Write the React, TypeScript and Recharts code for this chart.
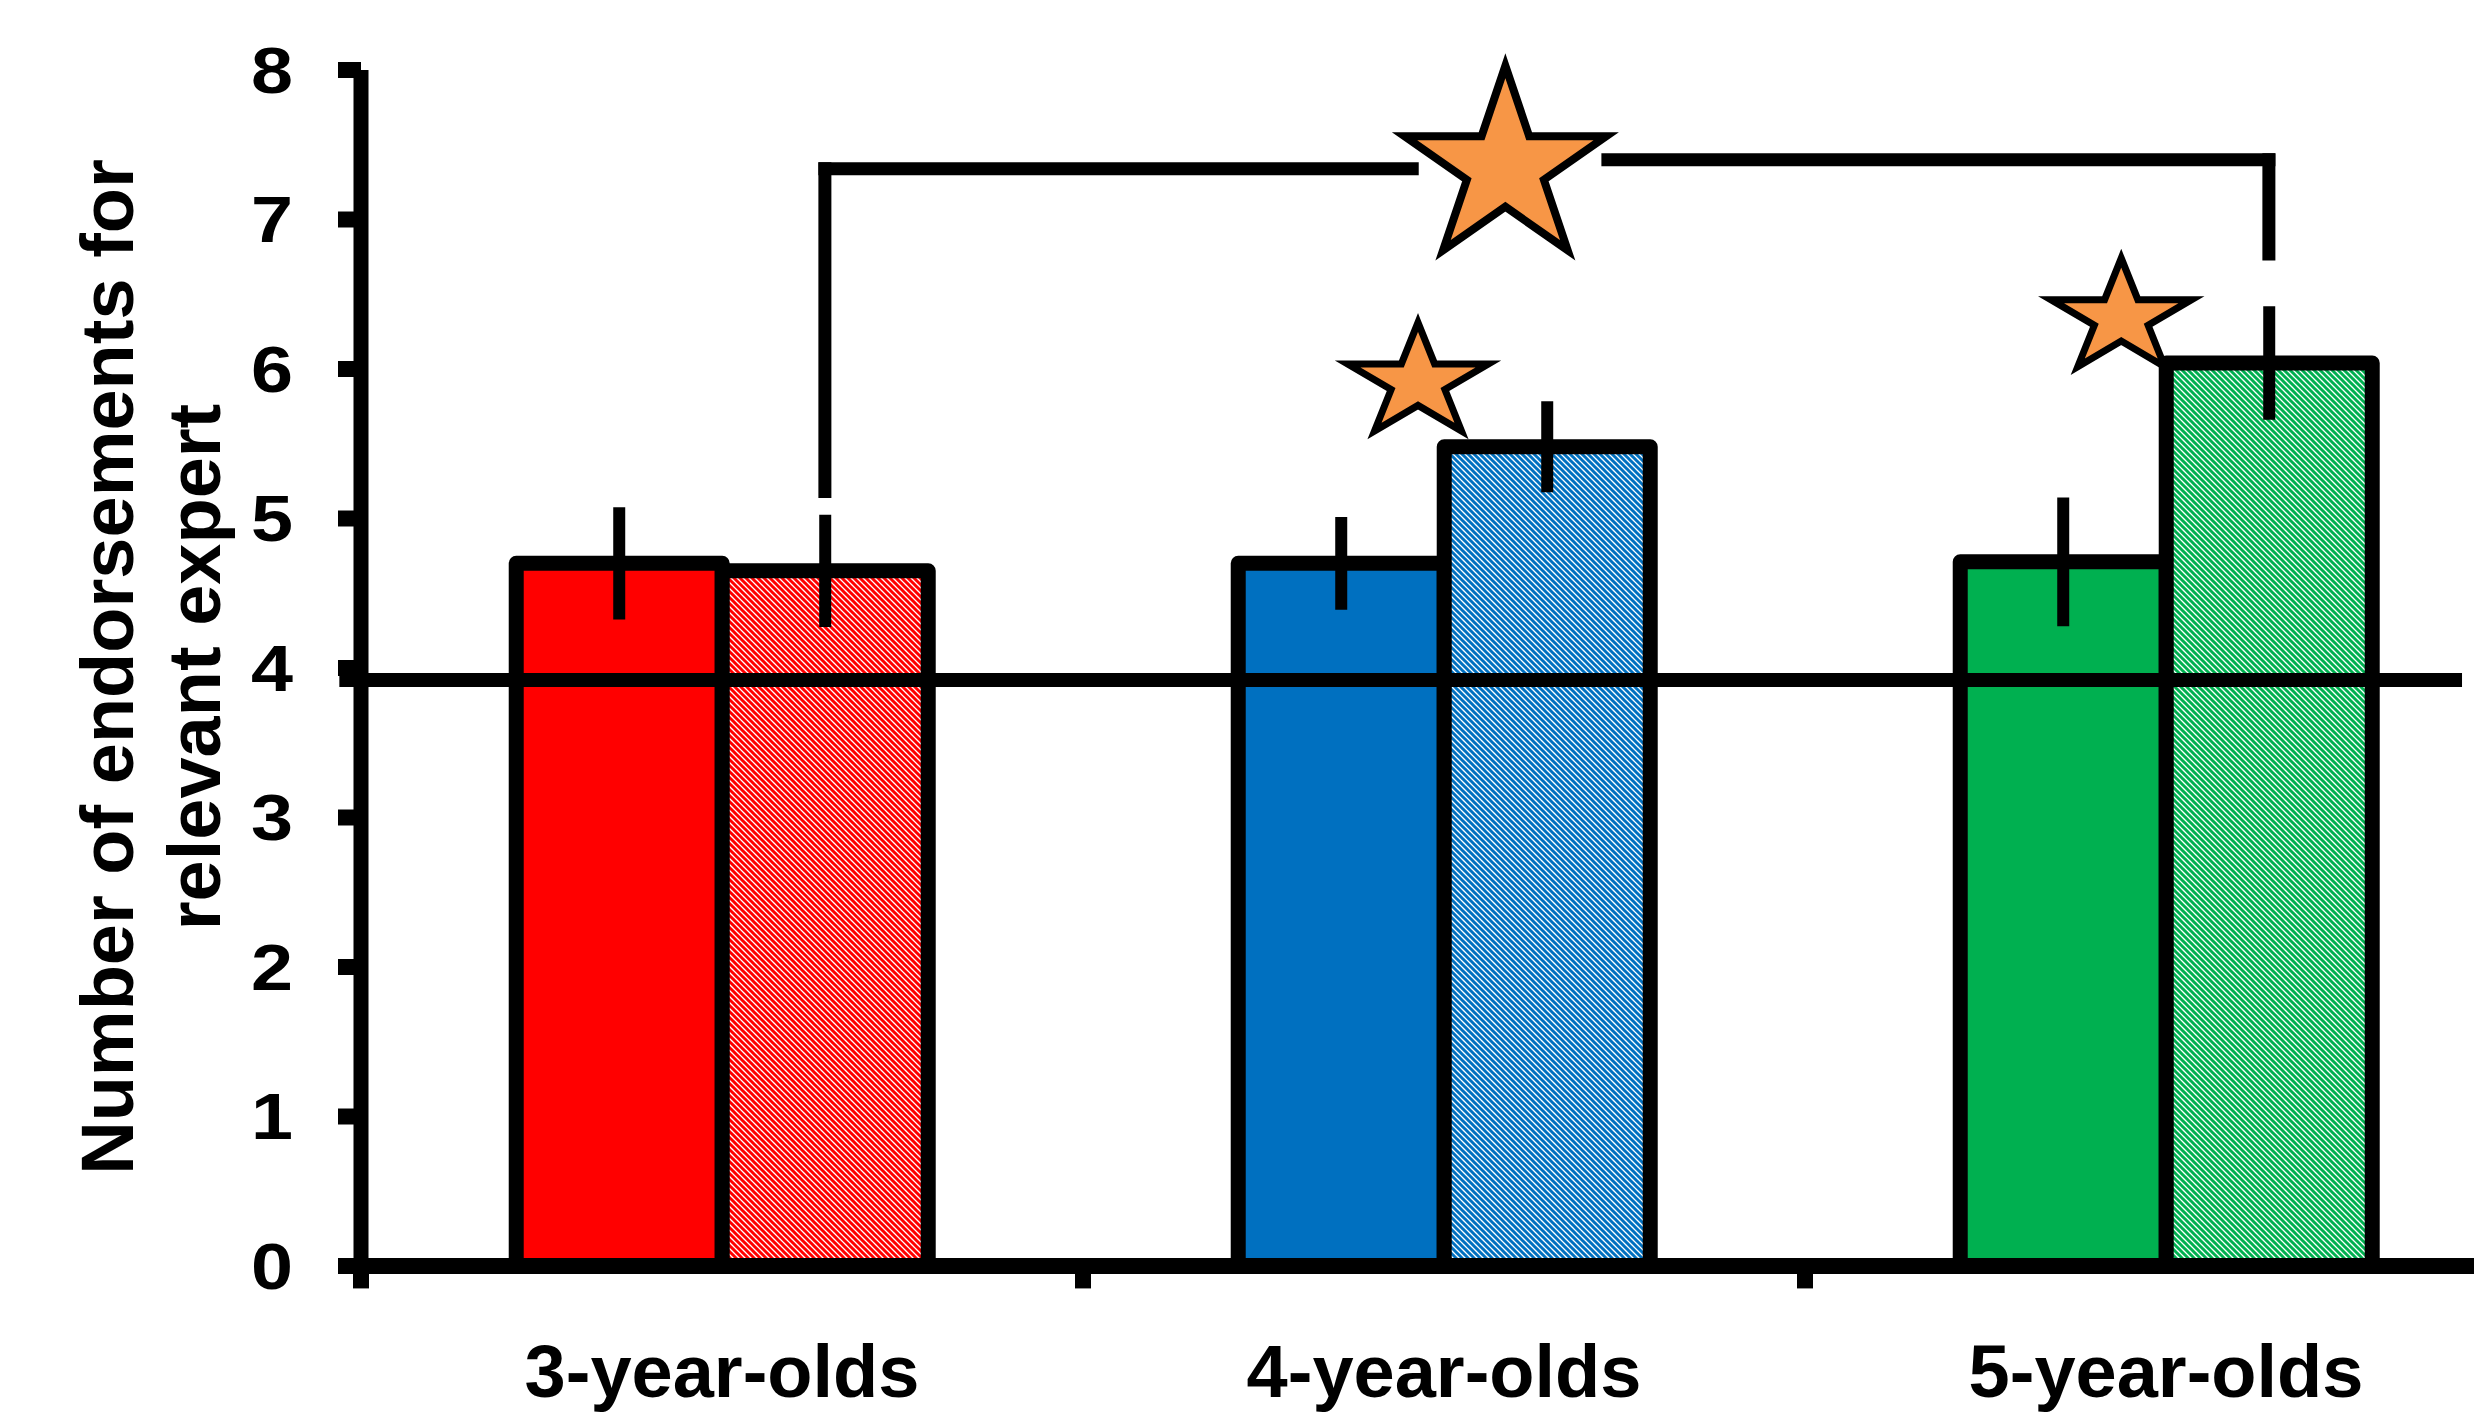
import {
  BarChart,
  Bar,
  XAxis,
  YAxis,
  Cell,
  ErrorBar,
  Label,
  ReferenceLine,
  ReferenceDot,
} from "recharts";

const FONT = '"Liberation Sans", Arial, Helvetica, sans-serif';

// values
const groups = ["3-year-olds", "4-year-olds", "5-year-olds"];
const solidValues = [4.7, 4.7, 4.71];
const solidErrors = [0.375, 0.31, 0.43];
const hatchedValues = [4.65, 5.48, 6.04];
const hatchedErrors = [0.375, 0.305, 0.38];
const yTicks = [0, 1, 2, 3, 4, 5, 6, 7, 8];
const groupEdges = [0, 1, 2, 3];
const chanceLevel = 3.92;

const barColors = ["#FF0000", "#0070C0", "#00B050"];
const STAR = "#F79646";

// annotations: x in group units (0..3 across the plot), y in data units
const bracketLeft = [
  { x: 0.6425, y: 5.18 },
  { x: 0.6425, y: 7.34 },
  { x: 1.456, y: 7.34 },
];
const bracketRight = [
  { x: 1.727, y: 7.4 },
  { x: 2.6425, y: 7.4 },
  { x: 2.6425, y: 6.77 },
];
const starPositions = [
  { x: 1.585, y: 7.346 },
  { x: 1.464, y: 5.91 },
  { x: 2.438, y: 6.34 },
];
const starSizes = [
  { rx: 106, ry: 102, sw: 8 },
  { rx: 74, ry: 60, sw: 7 },
  { rx: 74, ry: 60, sw: 7 },
];

const data = groups.map((g, i) => ({
  group: g,
  solid: solidValues[i],
  solidErr: solidErrors[i],
  hatched: hatchedValues[i],
  hatchedErr: hatchedErrors[i],
}));

// the hidden numeric x axis in a bar chart spans index 0..n-1 over the plot,
// so group units (0..n) are rescaled onto it
const NUM_MAX = groups.length - 1;
const gx = (u: number) => (u * NUM_MAX) / groups.length;
const pt = (p: { x: number; y: number }) => ({ x: gx(p.x), y: p.y });

function starPath(cx: number, cy: number, rx: number, ry: number) {
  const pts: string[] = [];
  for (let i = 0; i < 10; i++) {
    const a = -Math.PI / 2 + (i * Math.PI) / 5;
    const k = i % 2 === 0 ? 1 : 0.382;
    pts.push(`${cx + Math.cos(a) * rx * k},${cy + Math.sin(a) * ry * k}`);
  }
  return "M" + pts.join("L") + "Z";
}

const XTick = (props: any) => {
  const { x, y, payload } = props;
  return (
    <text
      x={x}
      y={y}
      dy="0.71em"
      textAnchor="middle"
      fontFamily={FONT}
      fontWeight="bold"
      fontSize={74}
      fill="#000"
    >
      {payload.value}
    </text>
  );
};

const YTick = (props: any) => {
  const { x, y, payload } = props;
  return (
    <text
      x={x}
      y={y}
      dy="0.355em"
      textAnchor="end"
      fontFamily={FONT}
      fontWeight="bold"
      fontSize={64}
      fill="#000"
      transform={`translate(${x},0) scale(1.18,1) translate(${-x},0)`}
    >
      {payload.value}
    </text>
  );
};

const YLabel = () => (
  <g fontFamily={FONT} fontWeight="bold" fontSize={74} fill="#000">
    <text transform="translate(133,667) rotate(-90)" textAnchor="middle">
      Number of endorsements for
    </text>
    <text transform="translate(220,667) rotate(-90)" textAnchor="middle">
      relevant expert
    </text>
  </g>
);

export default function App() {
  return (
    <div
      style={{
        position: "absolute",
        left: 0,
        top: 0,
        width: 2474,
        height: 1414,
        overflow: "hidden",
        background: "#fff",
      }}
    >
      <BarChart
        width={2540}
        height={1414}
        data={data}
        margin={{ top: 70, right: 13, bottom: 0, left: 0 }}
        barCategoryGap="21.5%"
        barGap={0}
      >
        <defs>
          {barColors.map((c, i) => (
            <pattern key={c} id={`hatch${i}`} patternUnits="userSpaceOnUse" width={6} height={6}>
              <rect width={6} height={6} fill="#fff" />
              <path d="M0,0 L6,6 M-1,5 L1,7 M5,-1 L7,1" stroke={c} strokeWidth={3} />
            </pattern>
          ))}
        </defs>
        <XAxis
          dataKey="group"
          axisLine={{ stroke: "#000", strokeWidth: 16 }}
          tickLine={false}
          tickSize={0}
          tickMargin={78}
          height={148}
          interval={0}
          tick={(p: any) => <XTick {...p} />}
        />
        <XAxis
          xAxisId="num"
          type="number"
          domain={[0, NUM_MAX]}
          allowDataOverflow
          hide
          orientation="top"
        />
        <YAxis
          domain={[0, 8]}
          ticks={yTicks}
          interval={0}
          width={361}
          axisLine={{ stroke: "#000", strokeWidth: 15 }}
          tickLine={{ stroke: "#000", strokeWidth: 16 }}
          tickSize={23}
          tickMargin={45}
          tick={(p: any) => <YTick {...p} />}
        >
          <Label content={() => <YLabel />} />
        </YAxis>

        <Bar dataKey="solid" stroke="#000" strokeWidth={15} strokeLinejoin="round" isAnimationActive={false}>
          {data.map((d, i) => (
            <Cell key={d.group} fill={barColors[i]} />
          ))}
          <ErrorBar dataKey="solidErr" width={0} stroke="#000" strokeWidth={12} />
        </Bar>
        <Bar dataKey="hatched" stroke="#000" strokeWidth={15} strokeLinejoin="round" isAnimationActive={false}>
          {data.map((d, i) => (
            <Cell key={d.group} fill={`url(#hatch${i})`} />
          ))}
          <ErrorBar dataKey="hatchedErr" width={0} stroke="#000" strokeWidth={12} />
        </Bar>

        <ReferenceLine
          xAxisId="num"
          segment={[pt({ x: -0.03, y: chanceLevel }), pt({ x: 2.91, y: chanceLevel })]}
          stroke="#000"
          strokeWidth={14}
          ifOverflow="visible"
        />
        {groupEdges.map((e) => (
          <ReferenceLine
            key={`edge${e}`}
            xAxisId="num"
            segment={[pt({ x: e, y: 0 }), pt({ x: e, y: -0.15 })]}
            stroke="#000"
            strokeWidth={16}
            ifOverflow="visible"
          />
        ))}
        {[bracketLeft, bracketRight].map((pts, k) =>
          pts.slice(1).map((p, i) => (
            <ReferenceLine
              key={`br${k}-${i}`}
              xAxisId="num"
              segment={[pt(pts[i]), pt(p)]}
              stroke="#000"
              strokeWidth={13}
              strokeLinecap="square"
              ifOverflow="visible"
            />
          ))
        )}
        {starPositions.map((s, i) => (
          <ReferenceDot
            key={`star${i}`}
            xAxisId="num"
            x={gx(s.x)}
            y={s.y}
            r={1}
            ifOverflow="visible"
            shape={(p: any) => (
              <path
                d={starPath(p.cx, p.cy, starSizes[i].rx, starSizes[i].ry)}
                fill={STAR}
                stroke="#000"
                strokeWidth={starSizes[i].sw}
              />
            )}
          />
        ))}
      </BarChart>
    </div>
  );
}
